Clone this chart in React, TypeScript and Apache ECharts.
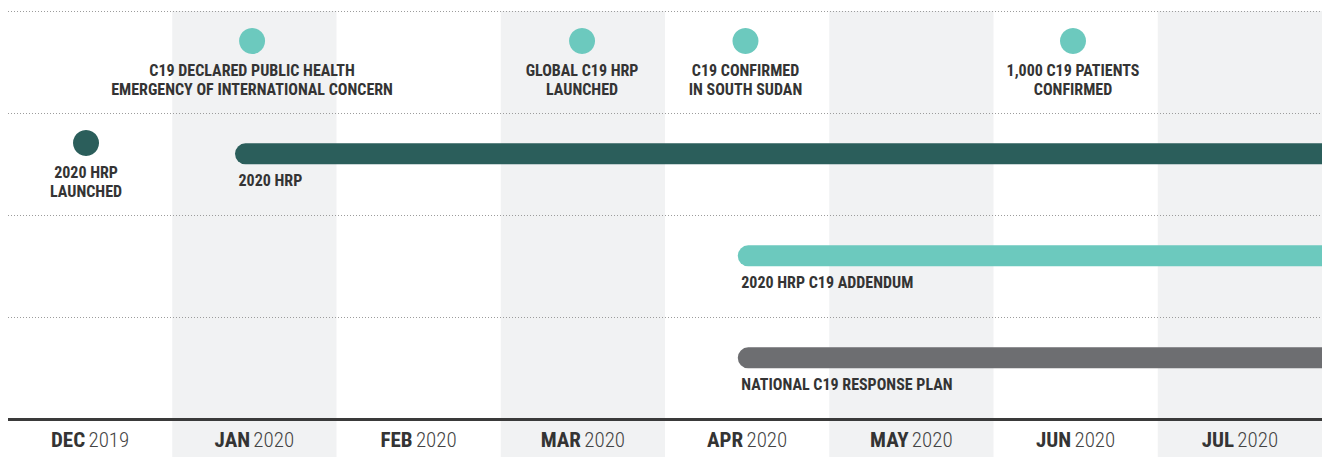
import React, { useEffect, useRef } from "react";
import * as echarts from "echarts";

// ---- data ----
const monthNames = ["DEC", "JAN", "FEB", "MAR", "APR", "MAY", "JUN", "JUL"];
const monthYears = ["2019", "2020", "2020", "2020", "2020", "2020", "2020", "2020"];

// milestone events (circles): position in months from start of DEC 2019, timeline row
const eventNames = [
  "C19 DECLARED PUBLIC HEALTH\nEMERGENCY OF INTERNATIONAL CONCERN",
  "GLOBAL C19 HRP\nLAUNCHED",
  "C19 CONFIRMED\nIN SOUTH SUDAN",
  "1,000 C19 PATIENTS\nCONFIRMED",
  "2020 HRP\nLAUNCHED",
];
const eventMonth = [1.486, 3.495, 4.49, 6.484, 0.475];
const eventRow = [0, 0, 0, 0, 1];
const eventKind = ["c19", "c19", "c19", "c19", "hrp"];

// plans (bars): start month, timeline row
const planNames = ["2020 HRP", "2020 HRP C19 ADDENDUM", "NATIONAL C19 RESPONSE PLAN"];
const planStart = [1.382, 4.443, 4.443];
const planEnd = [8, 8, 8];
const planRow = [1, 2, 3];
const planKind = ["hrp", "c19", "national"];

// ---- styles ----
const FONT = "'Roboto Condensed', 'Liberation Sans Narrow', 'DejaVu Sans Condensed', Roboto, sans-serif";
const kindColor: Record<string, string> = {
  c19: "#6cc9be",
  hrp: "#2b5e5b",
  national: "#6d6e71",
};
const TEXT = "#343434";

export default function App() {
  const ref = useRef<HTMLDivElement>(null);
  useEffect(() => {
    if (!ref.current) return;
    const chart = echarts.init(ref.current, null, { renderer: "svg" });

    const eventData = eventNames.map((n, i) => ({
      value: [eventMonth[i], eventRow[i] + 0.295],
      name: n,
      itemStyle: { color: kindColor[eventKind[i]], opacity: 1 },
    }));
    const planData = planNames.map((n, i) => [planStart[i], planRow[i] + 0.4, planEnd[i], i]);

    chart.setOption({
      animation: false,
      grid: { left: 8, right: 0, top: 11, bottom: 0 },
      xAxis: [
        { type: "value", min: 0, max: 8, show: false },
        {
          type: "category",
          data: monthNames,
          boundaryGap: true,
          position: "bottom",
          z: 0,
          axisLine: { show: false },
          axisTick: { show: false },
          axisLabel: {
            inside: true,
            margin: 17,
            verticalAlign: "middle",
            formatter: (v: string, i: number) => `{b|${v}} {r|${monthYears[i]}}`,
            rich: {
              b: { fontFamily: FONT, fontWeight: "bold", fontSize: 21, color: TEXT },
              r: { fontFamily: FONT, fontWeight: 300, fontSize: 21, color: "#444444" },
            },
          },
          splitArea: { show: true, areaStyle: { color: ["rgba(0,0,0,0)", "#f1f2f3"] } },
          splitLine: { show: false },
        },
      ],
      yAxis: {
        type: "value",
        inverse: true,
        min: 0,
        max: 446 / 102,
        interval: 1,
        z: 3,
        axisLine: { show: false },
        axisTick: { show: false },
        axisLabel: { show: false },
        splitLine: {
          show: true,
          showMinLine: true,
          showMaxLine: false,
          lineStyle: { color: "#9c9c9c", type: [1, 2], width: 1 },
        },
      },
      series: [
        {
          type: "custom",
          xAxisIndex: 0,
          z: 5,
          clip: true,
          data: planData,
          renderItem: (params: any, api: any) => {
            const s = api.coord([api.value(0), api.value(1)]);
            const e = api.coord([api.value(2), api.value(1)]);
            const idx = api.value(3);
            const h = 21;
            return {
              type: "group",
              children: [
                {
                  type: "rect",
                  shape: { x: s[0], y: s[1] - h / 2, width: e[0] - s[0], height: h, r: [h / 2, 0, 0, h / 2] },
                  style: { fill: kindColor[planKind[idx]] },
                },
                {
                  type: "text",
                  x: s[0] + 3.5,
                  y: s[1] + 27,
                  style: {
                    text: planNames[idx],
                    fill: TEXT,
                    font: `bold 16px ${FONT}`,
                    verticalAlign: "middle",
                    align: "left",
                  },
                },
              ],
            };
          },
        },
        {
          type: "scatter",
          xAxisIndex: 0,
          z: 5,
          symbol: "circle",
          symbolSize: 26,
          itemStyle: { opacity: 1 },
          data: eventData,
          label: {
            show: true,
            position: "bottom",
            distance: 7,
            formatter: (p: any) => p.name,
            fontFamily: FONT,
            fontWeight: "bold",
            fontSize: 16,
            lineHeight: 19,
            color: TEXT,
            opacity: 1,
            align: "center",
          },
          markLine: {
            silent: true,
            symbol: "none",
            label: { show: false },
            lineStyle: { color: "#3a3a3a", type: "solid", width: 3 },
            data: [{ yAxis: 4 }],
          },
        },
      ],
    });
    return () => chart.dispose();
  }, []);
  return (
    <div
      ref={ref}
      style={{ position: "absolute", left: 0, top: 0, width: 1322, height: 457 }}
    />
  );
}
